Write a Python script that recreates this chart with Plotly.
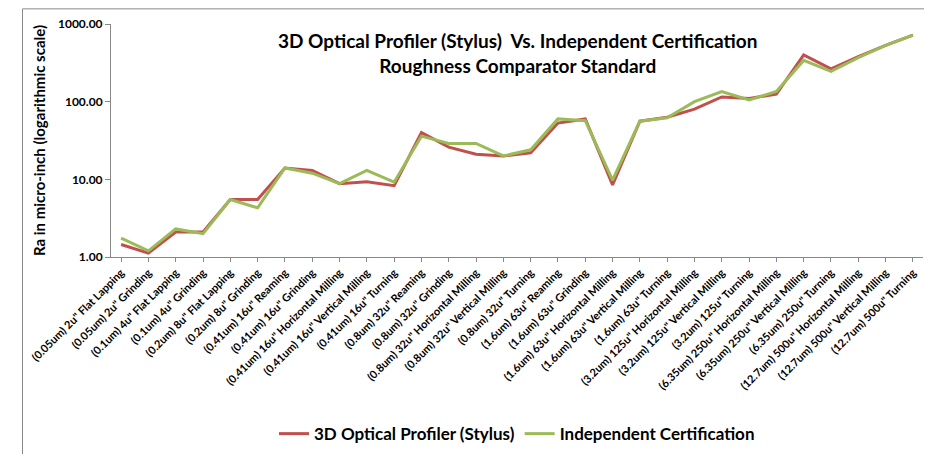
import plotly.graph_objects as go

categories = ['(0.05um) 2u" Flat Lapping','(0.05um) 2u" Grinding','(0.1um) 4u" Flat Lapping','(0.1um) 4u" Grinding',
 '(0.2um) 8u" Flat Lapping','(0.2um) 8u" Grinding','(0.41um) 16u" Reaming','(0.41um) 16u" Grinding',
 '(0.41um) 16u" Horizontal Milling','(0.41um) 16u" Vertical Milling','(0.41um) 16u" Turning','(0.8um) 32u" Reaming',
 '(0.8um) 32u" Grinding','(0.8um) 32u" Horizontal Milling','(0.8um) 32u" Vertical Milling','(0.8um) 32u" Turning',
 '(1.6um) 63u" Reaming','(1.6um) 63u" Grinding','(1.6um) 63u" Horizontal Milling','(1.6um) 63u" Vertical Milling',
 '(1.6um) 63u" Turning','(3.2um) 125u" Horizontal Milling','(3.2um) 125u" Vertical Milling','(3.2um) 125u" Turning',
 '(6.35um) 250u" Horizontal Milling','(6.35um) 250u" Vertical Milling','(6.35um) 250u" Turning',
 '(12.7um) 500u" Horizontal Milling','(12.7um) 500u" Vertical Milling','(12.7um) 500u" Turning']
profiler = [1.45,1.12,2.1,2.1,5.5,5.5,14,13,8.8,9.3,8.3,40,26,21,20,22,53,60,8.5,56,63,80,115,110,125,400,265,380,530,720]
certification = [1.75,1.2,2.3,2.0,5.5,4.3,14,12,8.8,13,9.2,36,29,29,20,24,60,57,9.8,56,62,100,135,105,135,340,245,370,530,720]
yticks = [1, 10, 100, 1000]

fig = go.Figure()
fig.add_trace(go.Scatter(x=categories, y=profiler, mode="lines", name="3D Optical Profiler (Stylus)",
                         line=dict(color="#C0504D", width=3)))
fig.add_trace(go.Scatter(x=categories, y=certification, mode="lines", name="Independent Certification",
                         line=dict(color="#9BBB59", width=3)))
font = "Lato, 'Open Sans', sans-serif"
fig.update_layout(
    width=932, height=454, margin=dict(l=103, r=17, t=16, b=205, autoexpand=False),
    paper_bgcolor="white", plot_bgcolor="white",
    font=dict(family=font, color="black"),
    showlegend=True,
    legend=dict(orientation="h", x=0.5, xanchor="center", y=-0.76, yanchor="middle",
                font=dict(size=17, family=font, weight="bold")),
    xaxis=dict(type="category", range=[-0.37, 29.37], tickangle=-45, tickfont=dict(size=11, weight="bold"),
               automargin=False,
               showline=True, linecolor="#888", ticks="outside", ticklen=4, tickcolor="#888", showgrid=False),
    yaxis=dict(type="log", range=[0, 3], tickvals=yticks, ticktext=[f"{v:.2f}" for v in yticks],
               automargin=False,
               tickfont=dict(size=12, weight="bold"), showline=True, linecolor="#888", ticks="outside",
               tickcolor="#888", showgrid=False,
               title=dict(text="Ra in micro-inch (logarithmic scale)", font=dict(size=15, weight="bold"), standoff=8)),
    annotations=[dict(text="3D Optical Profiler (Stylus)  Vs. Independent Certification<br>Roughness Comparator Standard",
                      xref="paper", yref="paper", x=0.5, y=0.985, xanchor="center", yanchor="top", showarrow=False,
                      font=dict(size=19, weight="bold", family=font))],
    shapes=[dict(type="rect", xref="paper", yref="paper", x0=-0.109, x1=1.0185, y0=-0.875, y1=1.065,
                 line=dict(color="#888", width=1))],
)
fig.write_html("out.html")
